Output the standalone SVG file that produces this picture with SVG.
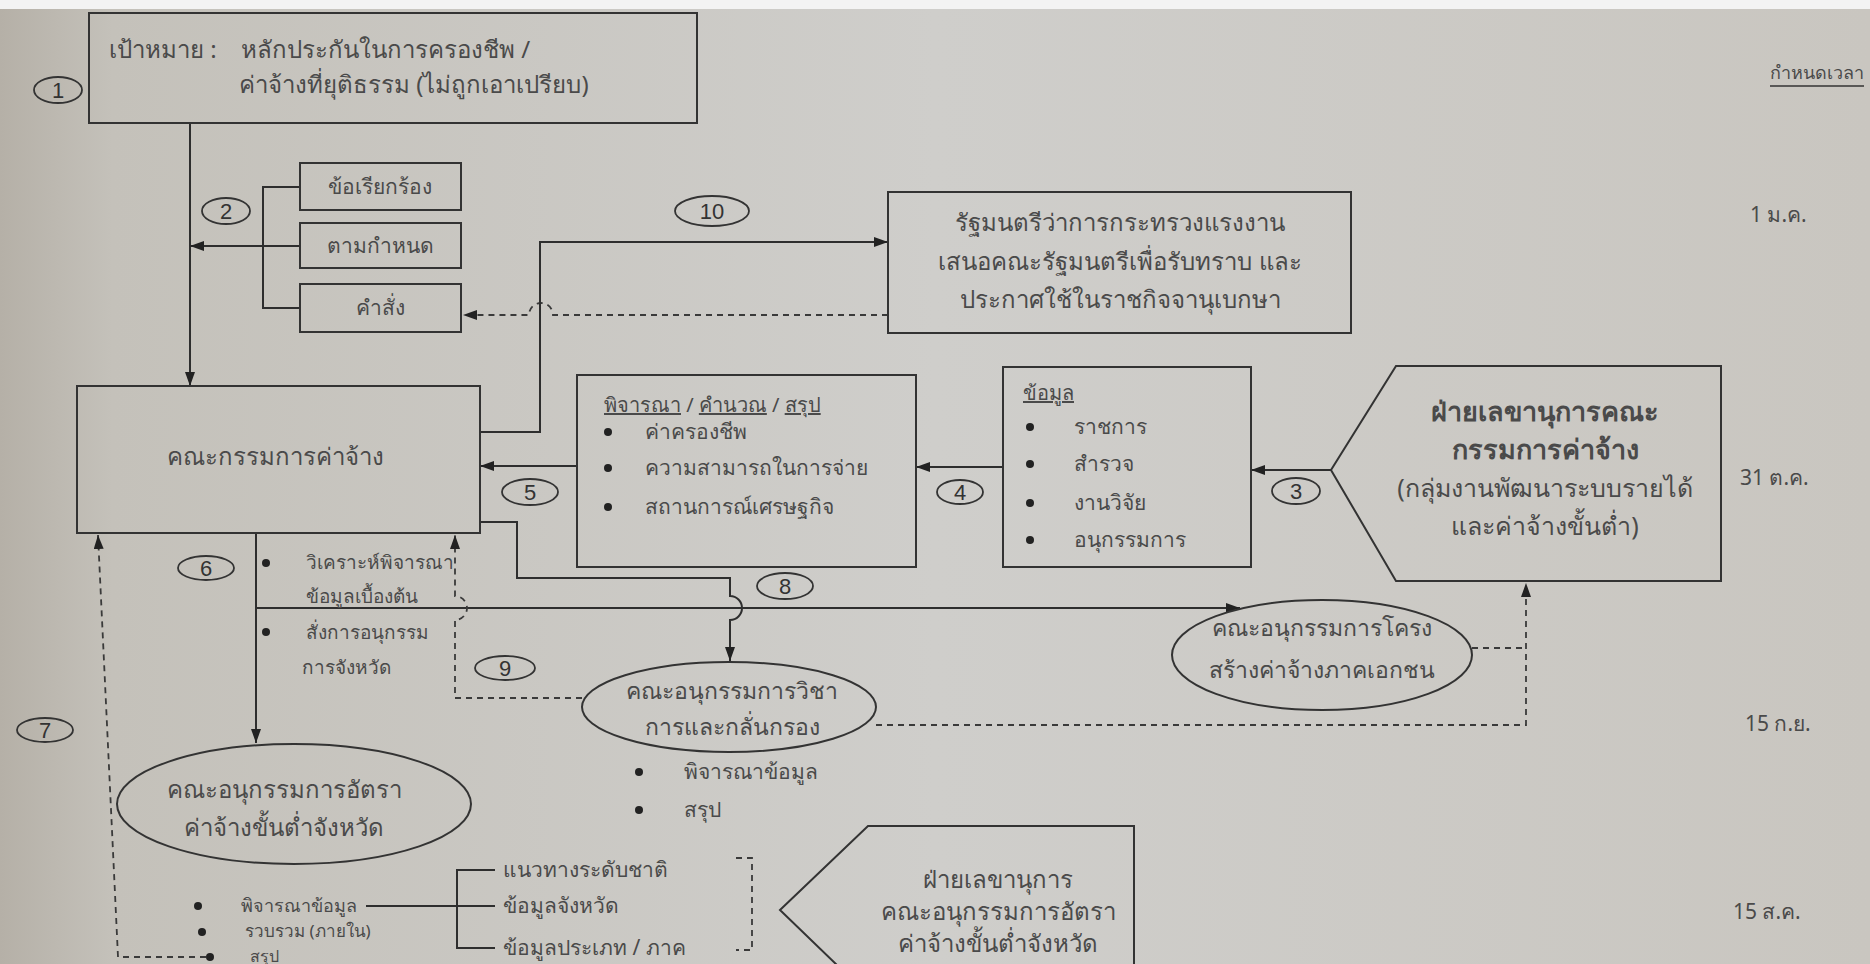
<svg xmlns="http://www.w3.org/2000/svg" width="1870" height="964" viewBox="0 0 1870 964">
<defs>
<linearGradient id="paper" x1="0" y1="0" x2="1" y2="0">
<stop offset="0" stop-color="#b5b0a7"/>
<stop offset="0.06" stop-color="#c4c1ba"/>
<stop offset="0.5" stop-color="#cfcecb"/>
<stop offset="1" stop-color="#c9c6c0"/>
</linearGradient>
<marker id="ah" viewBox="0 0 14 10" refX="14" refY="5" markerWidth="14" markerHeight="10" markerUnits="userSpaceOnUse" orient="auto">
<path d="M0,0 L14,5 L0,10 Z" fill="#222"/>
</marker>
<style>
.bx{fill:none;stroke:#333;stroke-width:2}
.ln{fill:none;stroke:#2e2e2e;stroke-width:2}
.dl{fill:none;stroke:#3a3a3a;stroke-width:1.8;stroke-dasharray:6 5}
.tx{font-family:"Noto Sans","DejaVu Sans",sans-serif;fill:#4a4a4a}
.tc{text-anchor:middle}
.num{font-family:"Liberation Sans",Arial,sans-serif;fill:#333;font-size:22px;text-anchor:middle}
.nc{fill:none;stroke:#333;stroke-width:1.8}
.bul{fill:#222}
.bd{font-weight:bold}
.ul{text-decoration:underline}
</style>
</defs>
<rect x="0" y="0" width="1870" height="964" fill="url(#paper)"/>
<rect x="0" y="0" width="1870" height="9" fill="#f3f3f3"/>

<g id="connectors">
<path class="ln" d="M190,123 L190,386" marker-end="url(#ah)"/>
<path class="ln" d="M300,187 L263,187 L263,308 L300,308"/>
<path class="ln" d="M300,246 L190,246" marker-end="url(#ah)"/>
<path class="dl" d="M888,315 L553,315 A12,12 0 0 0 529,315 L463,315" marker-end="url(#ah)"/>
<path class="ln" d="M480,432 L540,432 L540,242 L888,242" marker-end="url(#ah)"/>
<path class="ln" d="M577,466 L480,466" marker-end="url(#ah)"/>
<path class="ln" d="M1003,467 L916,467" marker-end="url(#ah)"/>
<path class="ln" d="M1331,470 L1251,470" marker-end="url(#ah)"/>
<path class="ln" d="M480,522 L517,522 L517,578 L730,578 L730,596 A12,12 0 0 1 730,620 L730,661" marker-end="url(#ah)"/>
<path class="ln" d="M256,533 L256,743" marker-end="url(#ah)"/>
<path class="ln" d="M256,608 L1240,608" marker-end="url(#ah)"/>
<path class="dl" d="M582,698 L455,698 L455,620 A12,12 0 0 0 455,596 L455,535" marker-end="url(#ah)"/>
<path class="dl" d="M206,957 L118,957 L98,535" marker-end="url(#ah)"/>
<path class="dl" d="M876,725 L1526,725 L1526,583" marker-end="url(#ah)"/>
<path class="dl" d="M1472,648 L1526,648"/>
<path class="ln" d="M366,906 L457,906"/>
<path class="ln" d="M495,870 L457,870 L457,948 L495,948"/>
<path class="ln" d="M457,906 L495,906"/>
<path class="dl" d="M736,858 L752,858 L752,950 L736,950"/>
</g>

<g id="n1">
<rect class="bx" x="89" y="13" width="608" height="110"/>
<text class="tx" x="109" y="58" font-size="24">เป้าหมาย :</text>
<text class="tx" x="241" y="58" font-size="24">หลักประกันในการครองชีพ /</text>
<text class="tx" x="239" y="93" font-size="24">ค่าจ้างที่ยุติธรรม (ไม่ถูกเอาเปรียบ)</text>
</g>
<g id="c1"><ellipse class="nc" cx="58" cy="90" rx="24" ry="13"/><text class="num" x="58" y="98">1</text></g>

<g id="n2a"><rect class="bx" x="300" y="163" width="161" height="47"/><text class="tx tc" x="380" y="194" font-size="21">ข้อเรียกร้อง</text></g>
<g id="n2b"><rect class="bx" x="300" y="223" width="161" height="45"/><text class="tx tc" x="380" y="253" font-size="21">ตามกำหนด</text></g>
<g id="n2c"><rect class="bx" x="300" y="284" width="161" height="48"/><text class="tx tc" x="380" y="315" font-size="21">คำสั่ง</text></g>
<g id="c2"><ellipse class="nc" cx="226" cy="211" rx="24" ry="13"/><text class="num" x="226" y="219">2</text></g>

<g id="c10"><ellipse class="nc" cx="712" cy="211" rx="37" ry="15"/><text class="num" x="712" y="219">10</text></g>
<g id="n10">
<rect class="bx" x="888" y="192" width="463" height="141"/>
<text class="tx tc" x="1120" y="231" font-size="24">รัฐมนตรีว่าการกระทรวงแรงงาน</text>
<text class="tx tc" x="1120" y="270" font-size="24">เสนอคณะรัฐมนตรีเพื่อรับทราบ และ</text>
<text class="tx tc" x="1120" y="308" font-size="24">ประกาศใช้ในราชกิจจานุเบกษา</text>
</g>

<g id="nK">
<rect class="bx" x="77" y="386" width="403" height="147"/>
<text class="tx tc" x="275" y="465" font-size="24">คณะกรรมการค่าจ้าง</text>
</g>

<g id="n5">
<rect class="bx" x="577" y="375" width="339" height="192"/>
<text class="tx" x="604" y="412" font-size="20"><tspan class="ul">พิจารณา</tspan> / <tspan class="ul">คำนวณ</tspan> / <tspan class="ul">สรุป</tspan></text>
<circle class="bul" cx="608" cy="432" r="4"/><text class="tx" x="645" y="439" font-size="21">ค่าครองชีพ</text>
<circle class="bul" cx="608" cy="468" r="4"/><text class="tx" x="645" y="475" font-size="21">ความสามารถในการจ่าย</text>
<circle class="bul" cx="608" cy="507" r="4"/><text class="tx" x="645" y="514" font-size="21">สถานการณ์เศรษฐกิจ</text>
</g>
<g id="c5"><ellipse class="nc" cx="530" cy="492" rx="28" ry="13"/><text class="num" x="530" y="500">5</text></g>

<g id="n4">
<rect class="bx" x="1003" y="367" width="248" height="200"/>
<text class="tx ul" x="1023" y="400" font-size="20">ข้อมูล</text>
<circle class="bul" cx="1030" cy="427" r="4"/><text class="tx" x="1074" y="434" font-size="21">ราชการ</text>
<circle class="bul" cx="1030" cy="464" r="4"/><text class="tx" x="1074" y="471" font-size="21">สำรวจ</text>
<circle class="bul" cx="1030" cy="503" r="4"/><text class="tx" x="1074" y="510" font-size="21">งานวิจัย</text>
<circle class="bul" cx="1030" cy="540" r="4"/><text class="tx" x="1074" y="547" font-size="21">อนุกรรมการ</text>
</g>
<g id="c4"><ellipse class="nc" cx="960" cy="492" rx="23" ry="12"/><text class="num" x="960" y="500">4</text></g>

<g id="n3">
<polygon class="bx" points="1331,470 1396,366 1721,366 1721,581 1396,581"/>
<text class="tx tc bd" x="1545" y="421" font-size="27">ฝ่ายเลขานุการคณะ</text>
<text class="tx tc bd" x="1545" y="459" font-size="27">กรรมการค่าจ้าง</text>
<text class="tx tc" x="1545" y="497" font-size="25">(กลุ่มงานพัฒนาระบบรายได้</text>
<text class="tx tc" x="1545" y="535" font-size="25">และค่าจ้างขั้นต่ำ)</text>
</g>
<g id="c3"><ellipse class="nc" cx="1296" cy="491" rx="24" ry="13"/><text class="num" x="1296" y="499">3</text></g>

<g id="n6">
<circle class="bul" cx="266" cy="563" r="4"/>
<text class="tx" x="306" y="569" font-size="19">วิเคราะห์พิจารณา</text>
<text class="tx" x="306" y="603" font-size="19">ข้อมูลเบื้องต้น</text>
<circle class="bul" cx="266" cy="632" r="4"/>
<text class="tx" x="306" y="639" font-size="19">สั่งการอนุกรรม</text>
<text class="tx" x="302" y="674" font-size="19">การจังหวัด</text>
</g>
<g id="c6"><ellipse class="nc" cx="206" cy="568" rx="28" ry="12"/><text class="num" x="206" y="576">6</text></g>
<g id="c8"><ellipse class="nc" cx="785" cy="586" rx="28" ry="13"/><text class="num" x="785" y="594">8</text></g>
<g id="c9"><ellipse class="nc" cx="505" cy="668" rx="30" ry="12"/><text class="num" x="505" y="676">9</text></g>
<g id="c7"><ellipse class="nc" cx="45" cy="730" rx="28" ry="12"/><text class="num" x="45" y="738">7</text></g>

<g id="nAcad">
<ellipse class="bx" cx="729" cy="707" rx="147" ry="45"/>
<text class="tx tc" x="732" y="699" font-size="23">คณะอนุกรรมการวิชา</text>
<text class="tx tc" x="732" y="735" font-size="23">การและกลั่นกรอง</text>
<circle class="bul" cx="639" cy="772" r="4"/><text class="tx" x="684" y="779" font-size="21">พิจารณาข้อมูล</text>
<circle class="bul" cx="639" cy="810" r="4"/><text class="tx" x="684" y="817" font-size="21">สรุป</text>
</g>

<g id="nStruct">
<ellipse class="bx" cx="1322" cy="655" rx="150" ry="55"/>
<text class="tx tc" x="1322" y="636" font-size="23">คณะอนุกรรมการโครง</text>
<text class="tx tc" x="1322" y="678" font-size="23">สร้างค่าจ้างภาคเอกชน</text>
</g>

<g id="nRate">
<ellipse class="bx" cx="294" cy="804" rx="177" ry="60"/>
<text class="tx tc" x="284" y="798" font-size="24">คณะอนุกรรมการอัตรา</text>
<text class="tx tc" x="284" y="836" font-size="24">ค่าจ้างขั้นต่ำจังหวัด</text>
<circle class="bul" cx="198" cy="906" r="4"/><text class="tx" x="241" y="912" font-size="18">พิจารณาข้อมูล</text>
<circle class="bul" cx="202" cy="932" r="4"/><text class="tx" x="245" y="937" font-size="17">รวบรวม (ภายใน)</text>
<circle class="bul" cx="210" cy="957" r="4"/><text class="tx" x="250" y="962" font-size="16">สรุป</text>
</g>

<g id="nSources">
<text class="tx" x="503" y="877" font-size="21">แนวทางระดับชาติ</text>
<text class="tx" x="503" y="913" font-size="21">ข้อมูลจังหวัด</text>
<text class="tx" x="503" y="955" font-size="21">ข้อมูลประเภท / ภาค</text>
</g>

<g id="nSec2">
<polygon class="bx" points="780,910 868,826 1134,826 1134,995 868,995"/>
<text class="tx tc" x="998" y="888" font-size="24">ฝ่ายเลขานุการ</text>
<text class="tx tc" x="998" y="920" font-size="24">คณะอนุกรรมการอัตรา</text>
<text class="tx tc" x="998" y="952" font-size="24">ค่าจ้างขั้นต่ำจังหวัด</text>
</g>

<g id="timeline">
<text class="tx" x="1864" y="79" font-size="18" text-anchor="end">กำหนดเวลา</text>
<line x1="1770" y1="86" x2="1864" y2="86" stroke="#333" stroke-width="1.5"/>
<text class="tx" x="1750" y="222" font-size="21">1 ม.ค.</text>
<text class="tx" x="1740" y="485" font-size="21">31 ต.ค.</text>
<text class="tx" x="1745" y="731" font-size="21">15 ก.ย.</text>
<text class="tx" x="1733" y="919" font-size="21">15 ส.ค.</text>
</g>
</svg>
